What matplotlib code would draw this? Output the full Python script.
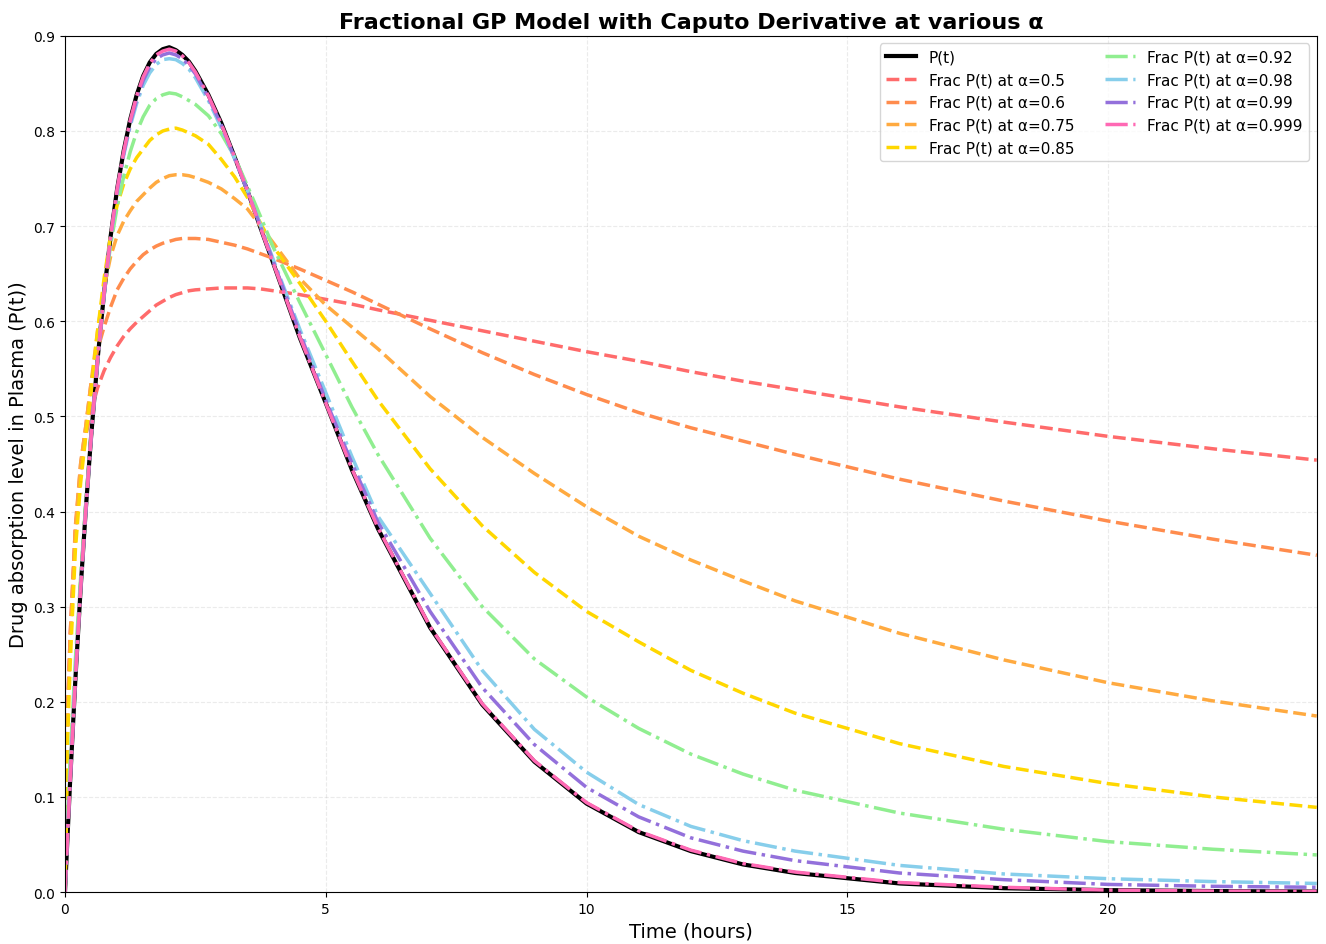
import matplotlib
matplotlib.use("Agg")
import matplotlib.pyplot as plt

# ==========================
# Data (time in hours)
# ==========================
t = [0, 0.05, 0.1, 0.2, 0.3, 0.4, 0.5, 0.625, 0.75, 0.875, 1, 1.125, 1.25, 1.375, 1.5,
     1.625, 1.75, 1.875, 2, 2.125, 2.25, 2.375, 2.5, 2.75, 3, 3.25, 3.5, 3.75, 4, 4.5,
     5, 5.5, 6, 7, 8, 9, 10, 11, 12, 13, 14, 16, 18, 20, 22, 24]

p_classic = [0, .060, .118, .224, .319, .403, .478, .560, .630, .689, .739, .779, .812, .838,
             .858, .872, .881, .886, .888, .885, .880, .873, .863, .838, .808, .773, .737,
             .698, .660, .583, .514, .444, .382, .278, .197, .137, .093, .063, .043, .029,
             .020, .009, .004, .002, .001, .0005]

alphas = ["0.5", "0.6", "0.75", "0.85", "0.92", "0.98", "0.99", "0.999"]

frac_05 = [0, .190, .270, .380, .440, .480, .505, .530, .548, .562, .574, .584, .592, .599,
           .605, .611, .617, .621, .625, .628, .630, .632, .633, .634, .635, .635, .635,
           .634, .632, .628, .623, .618, .612, .601, .590, .579, .568, .558, .547, .537,
           .528, .510, .494, .479, .466, .454]
frac_06 = [0, .190, .270, .385, .450, .490, .535, .570, .594, .615, .633, .645, .655, .663,
           .670, .675, .679, .682, .684, .686, .687, .687, .687, .686, .683, .680, .676,
           .671, .666, .655, .643, .631, .618, .592, .567, .544, .523, .504, .488, .474,
           .460, .434, .411, .390, .371, .354]
frac_075 = [0, .180, .260, .380, .450, .490, .535, .590, .635, .668, .690, .705, .716, .726,
            .733, .740, .746, .750, .753, .754, .754, .753, .751, .746, .739, .729, .718,
            .700, .682, .645, .617, .594, .571, .521, .478, .440, .405, .374, .349, .327,
            .306, .272, .244, .220, .201, .185]
frac_085 = [0, .160, .240, .360, .430, .480, .525, .590, .645, .690, .722, .744, .760, .772,
            .781, .790, .796, .800, .802, .803, .801, .798, .795, .786, .770, .752, .730,
            .703, .678, .640, .600, .558, .517, .445, .385, .336, .295, .263, .233, .209,
            .188, .156, .132, .114, .100, .089]
frac_092 = [0, .080, .140, .245, .330, .410, .480, .560, .630, .680, .720, .752, .778, .799,
            .815, .827, .834, .838, .840, .839, .836, .832, .828, .816, .797, .773, .742,
            .710, .677, .620, .565, .510, .460, .372, .300, .245, .205, .172, .145, .124,
            .107, .083, .066, .053, .045, .039]
frac_098 = [0, .065, .120, .228, .320, .402, .478, .560, .628, .687, .735, .774, .805, .829,
            .848, .861, .870, .875, .876, .875, .871, .865, .856, .832, .803, .771, .737,
            .701, .664, .592, .525, .458, .395, .314, .233, .171, .126, .092, .069, .054,
            .043, .028, .019, .014, .011, .009]
frac_099 = [0, .062, .118, .226, .320, .402, .478, .560, .629, .688, .737, .776, .808, .833,
            .853, .867, .876, .880, .882, .880, .876, .869, .860, .835, .806, .772, .737,
            .699, .662, .588, .517, .451, .389, .295, .215, .155, .110, .079, .057, .043,
            .033, .020, .013, .008, .006, .005]
frac_0999 = [0, .060, .118, .224, .319, .403, .478, .560, .630, .689, .739, .778, .811, .837,
             .857, .871, .880, .884, .886, .884, .879, .872, .862, .837, .807, .773, .737,
             .698, .660, .584, .514, .445, .383, .279, .198, .138, .094, .064, .044, .030,
             .021, .010, .005, .002, .001, .0006]

frac_series = [frac_05, frac_06, frac_075, frac_085, frac_092, frac_098, frac_099, frac_0999]
colors = ["#FF6B6B", "#FF8C4D", "#FFAA40", "#FFD700", "#90EE90", "#87CEEB", "#9370DB", "#FF69B4"]
styles = ["--", "--", "--", "--", "-.", "-.", "-.", "-."]

# ==========================
# Figure
# ==========================
fig = plt.figure(figsize=(13.26, 9.45), dpi=100)
ax = fig.add_axes([0.049, 0.055, 0.944, 0.906])

ax.plot(t, p_classic, color="black", linewidth=3, label="P(t)")
for a, ys, c, ls in zip(alphas, frac_series, colors, styles):
    ax.plot(t, ys, color=c, linestyle=ls, linewidth=2.5, label=f"Frac P(t) at α={a}")

ax.set_xlim(0, 24)
ax.set_ylim(0, 0.9)
ax.set_title("Fractional GP Model with Caputo Derivative at various α",
             fontsize=16, fontweight="bold")
ax.set_xlabel("Time (hours)", fontsize=14)
ax.set_ylabel("Drug absorption level in Plasma (P(t))", fontsize=14)
ax.grid(True, linestyle="--", alpha=0.25)
ax.legend(loc="upper right", ncol=2, fontsize=11)

plt.savefig("out.png", dpi=100)
plt.close()
